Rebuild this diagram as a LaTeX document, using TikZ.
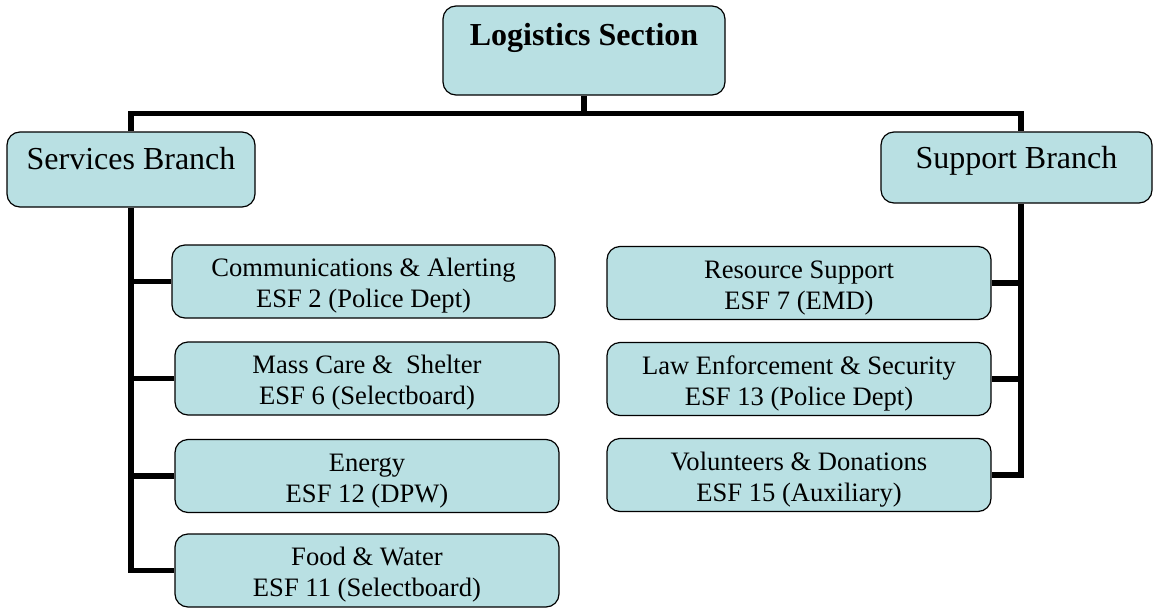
\documentclass[tikz,border=0pt]{standalone}
\usepackage{fontspec}
\setmainfont{Liberation Serif}
\definecolor{boxfill}{RGB}{185,224,227}

\begin{document}
\begin{tikzpicture}[x=1pt, y=-1pt, line join=miter, box/.style={draw=black, line width=1.2pt, fill=boxfill, rounded corners=13pt, inner sep=0pt}, head/.style={box, font=\fontsize{32}{38}\selectfont}, esf/.style={box, minimum width=384pt, minimum height=73pt, align=center, text height=55pt, text depth=3pt, font=\fontsize{26.6}{31}\selectfont}, conn/.style={line width=5.5pt, line cap=butt}]
    \useasboundingbox (0,0) rectangle (1154,608);
    % top level
    \draw(584,50.5) node[head, minimum width=282pt, text height=39pt, text depth=50pt] (logi) {\textbf{Logistics Section}};
    \draw(131,169.5) node[head, minimum width=248pt, text height=37.5pt, text depth=37.5pt] (serv) {Services Branch};
    \draw(1016.5,167.5) node[head, minimum width=271pt, text height=36pt, text depth=35pt] (supp) {Support Branch};
    % services branch
    \draw(363.5,281.5) node[esf, minimum width=383pt] (comm) {Communications \& Alerting\\ESF 2 (Police Dept)};
    \draw(367,378.5) node[esf] (mass) {Mass Care \& \ Shelter\\ESF 6 (Selectboard)};
    \draw(367,476) node[esf] (ener) {Energy\\ESF 12 (DPW)};
    \draw(367,570.5) node[esf] (food) {Food \& Water\\ESF 11 (Selectboard)};
    % support branch
    \draw(799,283) node[esf] (reso) {Resource Support\\ESF 7 (EMD)};
    \draw(799,379) node[esf] (law) {Law Enforcement \& Security\\ESF 13 (Police Dept)};
    \draw(799,475) node[esf] (volu) {Volunteers \& Donations\\ESF 15 (Auxiliary)};
    % connectors
    \draw[conn] (logi.south) -- ++(0,18) coordinate (bus);
    \draw[conn] (serv.north) |- (bus) -| ([xshift=4.5pt]supp.north);
    \draw[conn] (serv.south) |- (food.west);
    \foreach \n in {comm,mass,ener}
        \draw[conn] (serv.south |- \n.west) -- (\n.west);
    \draw[conn] ([xshift=4.5pt]supp.south) |- (volu.east);
    \foreach \n in {reso,law}
        \draw[conn] ([xshift=4.5pt]supp.south |- \n.east) -- (\n.east);
\end{tikzpicture}
\end{document}
